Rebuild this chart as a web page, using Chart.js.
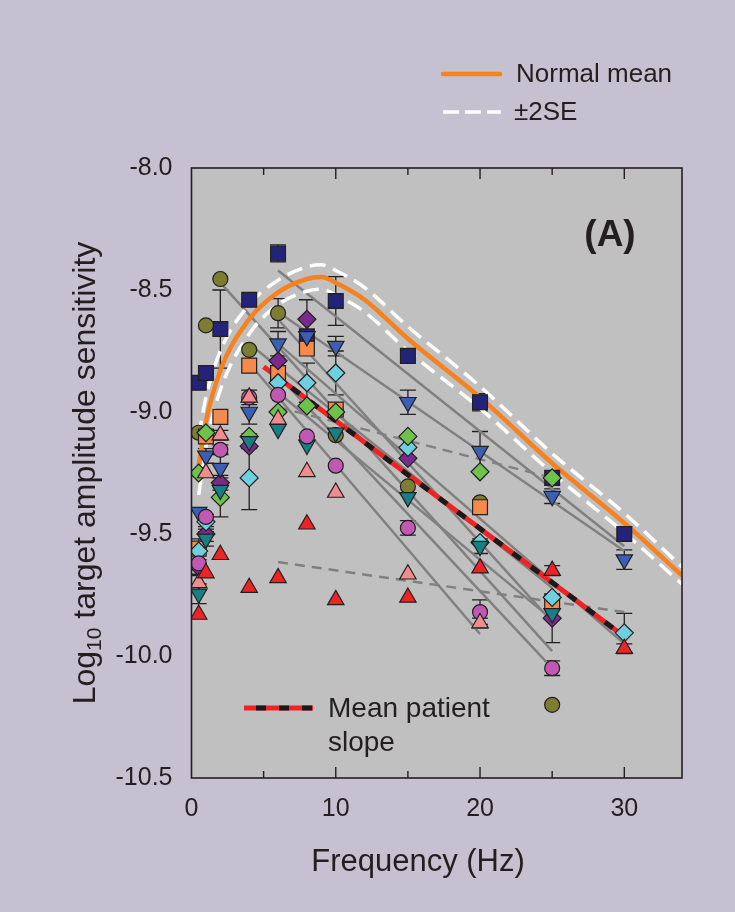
<!DOCTYPE html>
<html>
<head>
<meta charset="utf-8">
<script src="https://cdn.jsdelivr.net/npm/chart.js@4.4.0/dist/chart.umd.min.js"></script>
<style>
  html, body { margin: 0; padding: 0; background: #c6c1d0; }
  canvas { display: block; }
</style>
</head>
<body>
<canvas id="chart" width="735" height="912"></canvas>
<script>
'use strict';

// ── Data ────────────────────────────────────────────────────────────────────

const FREQS = [0.5, 1, 2, 4, 6, 8, 10, 15, 20, 25, 30];

// patient means (log10 target amplitude sensitivity), null = not tested
const NAVY    = [-8.88, -8.84, -8.66, -8.54, -8.35, -8.69, -8.545, -8.77, -8.96, -9.27, -9.50];
const OLIVE   = [-9.085, -8.645, -8.455, -8.745, -8.595, null, -9.095, -9.305, -9.37, -10.20, null];
const ORANGE  = [-9.56, -9.10, -9.02, -8.81, -8.84, -8.74, -8.99, null, -9.39, -9.78, null];
const PURPLE  = [-9.635, -9.50, -9.29, -9.14, -8.79, -8.62, null, -9.19, null, -9.845, null];
const BLUE    = [-9.41, -9.18, -9.23, -9.00, -8.72, -8.69, -8.73, -8.96, -9.16, -9.345, -9.605];
const CYAN    = [-9.57, -9.45, null, -9.27, -8.88, -8.88, -8.84, -9.145, -9.535, -9.76, -9.905];
const GREEN   = [-9.25, -9.085, -9.35, -9.10, -9.00, -8.975, -9.00, -9.10, -9.245, -9.27, null];
const TEAL    = [-9.745, -9.52, -9.32, -9.12, -9.07, -9.135, -9.085, -9.35, -9.55, -9.825, null];
const MAGENTA = [-9.62, -9.43, -9.155, -8.94, -8.93, -9.10, -9.22, -9.475, -9.82, -10.05, null];
const PINK    = [-9.70, -9.25, -9.095, -8.94, -9.03, -9.245, -9.33, -9.665, -9.865, null, null];
const RED     = [-9.83, -9.66, -9.585, -9.72, -9.68, -9.46, -9.77, -9.76, -9.64, -9.65, -9.97];

// error bar half-heights, null = no bar drawn
const NAVY_ERR    = [null, null, 0.16, null, 0.035, null, 0.10, null, 0.035, null, 0.03];
const OLIVE_ERR   = [null, null, null, null, 0.06, null, null, null, null, null, null];
const PURPLE_ERR  = [0.03, 0.03, 0.03, null, null, 0.08, null, null, null, 0.10, null];
const BLUE_ERR    = [null, 0.03, 0.06, 0.05, 0.05, null, 0.04, 0.05, 0.08, 0.03, 0.04];
const CYAN_ERR    = [0.05, 0.03, null, 0.13, null, 0.08, 0.09, null, null, null, 0.08];
const GREEN_ERR   = [null, null, 0.08, null, null, null, null, null, null, null, null];
const TEAL_ERR    = [0.04, 0.03, 0.03, 0.03, null, null, null, null, 0.03, null, null];
const MAGENTA_ERR = [null, null, 0.02, 0.03, null, null, null, 0.03, 0.05, 0.03, null];
const PINK_ERR    = [0.03, null, 0.02, null, null, null, null, null, 0.02, null, null];
const RED_ERR     = [null, null, null, null, null, null, null, null, null, 0.02, 0.02];

// per-patient linear fits (navy, olive, orange, purple, blue, cyan, green, teal, magenta, pink, red)
const FIT_FROM_HZ = [6, 2, 4, 6, 6, 6, 6, 6, 6, 4, 6];
const FIT_FROM    = [-8.42, -8.47, -8.72, -8.62, -8.59, -8.72, -8.98, -8.92, -8.85, -8.80, -9.615];
const FIT_TO_HZ   = [30, 25, 25, 25, 30, 30, 25, 25, 25, 20, 30];
const FIT_TO      = [-9.55, -9.98, -9.72, -9.86, -9.57, -9.95, -9.27, -9.85, -10.05, -9.91, -9.82];
const FIT_DASHED  = [false, false, false, false, false, false, true, false, false, false, true];

// normal observers
const NORM_HZ   = [0.5, 1, 2, 4, 6, 8, 9, 10, 12, 15, 20, 25, 30, 34];
const NORM_MEAN = [-9.22, -9.04, -8.83, -8.62, -8.51, -8.455, -8.447, -8.47, -8.54, -8.70, -8.94, -9.21, -9.455, -9.67];
const NORM_2SE  = [0.12, 0.10, 0.08, 0.06, 0.05, 0.05, 0.05, 0.05, 0.05, 0.05, 0.045, 0.04, 0.04, 0.035];

// mean patient slope
const SLOPE_HZ = [5, 30];
const SLOPE_VAL = [-8.815, -9.92];

const X_TICKS = [0, 10, 20, 30];
const Y_TICKS = [-10.5, -10.0, -9.5, -9.0, -8.5, -8.0];

// ── Styles ──────────────────────────────────────────────────────────────────

const FONT = "'Liberation Sans', Arial, sans-serif";
const INK = '#231f20';
const PAGE_BG = '#c6c1d0';
const PLOT_BG = '#c0c0c0';

const PATIENTS = [
  { name: 'navy',    vals: NAVY,    err: NAVY_ERR,    color: '#23237a', shape: 'rect',     r: 10.5 },
  { name: 'olive',   vals: OLIVE,   err: OLIVE_ERR,   color: '#7d7d32', shape: 'circle',   r: 7.5 },
  { name: 'orange',  vals: ORANGE,  err: null,        color: '#f58a4b', shape: 'rect',     r: 10.5 },
  { name: 'purple',  vals: PURPLE,  err: PURPLE_ERR,  color: '#7a2a8c', shape: 'rectRot',  r: 9 },
  { name: 'blue',    vals: BLUE,    err: BLUE_ERR,    color: '#3a5fb5', shape: 'triangle', r: 9.5, rot: 180 },
  { name: 'cyan',    vals: CYAN,    err: CYAN_ERR,    color: '#6dcfe0', shape: 'rectRot',  r: 9 },
  { name: 'green',   vals: GREEN,   err: GREEN_ERR,   color: '#6cc24a', shape: 'rectRot',  r: 9 },
  { name: 'teal',    vals: TEAL,    err: TEAL_ERR,    color: '#177f86', shape: 'triangle', r: 9.5, rot: 180 },
  { name: 'magenta', vals: MAGENTA, err: MAGENTA_ERR, color: '#c158b3', shape: 'circle',   r: 7.5 },
  { name: 'pink',    vals: PINK,    err: PINK_ERR,    color: '#f28c8c', shape: 'triangle', r: 9.5 },
  { name: 'red',     vals: RED,     err: RED_ERR,     color: '#ee2424', shape: 'triangle', r: 9.5 },
];

const pts = (xs, ys) => xs.map((x, i) => ({ x, y: ys[i] })).filter(p => p.y !== null);

// ── Datasets ────────────────────────────────────────────────────────────────

const datasets = [];

PATIENTS.forEach((p, i) => {
  datasets.push({
    type: 'line',
    data: [{ x: FIT_FROM_HZ[i], y: FIT_FROM[i] }, { x: FIT_TO_HZ[i], y: FIT_TO[i] }],
    borderColor: '#808080', borderWidth: 2.5,
    borderDash: FIT_DASHED[i] ? [10, 7] : [],
    pointRadius: 0, order: 100
  });
});

datasets.push({
  type: 'line', data: pts(NORM_HZ, NORM_MEAN.map((m, i) => m + NORM_2SE[i])),
  borderColor: '#ffffff', borderWidth: 3.5, borderDash: [16, 8],
  pointRadius: 0, cubicInterpolationMode: 'monotone', order: 90
});
datasets.push({
  type: 'line', data: pts(NORM_HZ, NORM_MEAN.map((m, i) => m - NORM_2SE[i])),
  borderColor: '#ffffff', borderWidth: 3.5, borderDash: [16, 8],
  pointRadius: 0, cubicInterpolationMode: 'monotone', order: 90
});
datasets.push({
  type: 'line', data: pts(NORM_HZ, NORM_MEAN),
  borderColor: '#f5821f', borderWidth: 4.5,
  pointRadius: 0, cubicInterpolationMode: 'monotone', order: 80
});

datasets.push({
  type: 'line', data: pts(SLOPE_HZ, SLOPE_VAL),
  borderColor: '#ee2424', borderWidth: 5, pointRadius: 0, order: 71
});
datasets.push({
  type: 'line', data: pts(SLOPE_HZ, SLOPE_VAL),
  borderColor: '#1a1a1a', borderWidth: 5, borderDash: [10, 13], borderDashOffset: -12,
  pointRadius: 0, order: 70
});

PATIENTS.forEach((p, i) => {
  datasets.push({
    type: 'scatter', data: pts(FREQS, p.vals), errors: p.err,
    backgroundColor: p.color, borderColor: INK, borderWidth: 1.2,
    pointStyle: p.shape, pointRadius: p.r, pointRotation: p.rot || 0,
    order: 20 - i
  });
});

// ── Plugins ─────────────────────────────────────────────────────────────────

const decor = {
  id: 'decor',
  beforeDraw(chart) {
    const { ctx, chartArea: a } = chart;
    ctx.save();
    ctx.fillStyle = PAGE_BG;
    ctx.fillRect(0, 0, chart.width, chart.height);
    ctx.fillStyle = PLOT_BG;
    ctx.fillRect(a.left, a.top, a.right - a.left, a.bottom - a.top);
    ctx.restore();
  },
  beforeDatasetsDraw(chart) {
    // error bars sit behind the markers
    const { ctx, scales: { x, y }, chartArea: a } = chart;
    ctx.save();
    ctx.beginPath();
    ctx.rect(a.left, a.top, a.right - a.left, a.bottom - a.top);
    ctx.clip();
    ctx.strokeStyle = INK;
    ctx.lineWidth = 1.3;
    PATIENTS.forEach(p => {
      if (!p.err) return;
      p.err.forEach((e, i) => {
        if (e === null || p.vals[i] === null) return;
        const px = x.getPixelForValue(FREQS[i]);
        const y1 = y.getPixelForValue(p.vals[i] + e);
        const y2 = y.getPixelForValue(p.vals[i] - e);
        ctx.beginPath();
        ctx.moveTo(px, y1); ctx.lineTo(px, y2);
        ctx.moveTo(px - 8, y1); ctx.lineTo(px + 8, y1);
        ctx.moveTo(px - 8, y2); ctx.lineTo(px + 8, y2);
        ctx.stroke();
      });
    });
    ctx.restore();
  },
  afterDraw(chart) {
    const { ctx, scales: { x, y }, chartArea: a } = chart;
    ctx.save();

    // frame + inward ticks
    ctx.strokeStyle = INK;
    ctx.lineWidth = 1.6;
    ctx.strokeRect(a.left, a.top, a.right - a.left, a.bottom - a.top);
    ctx.lineWidth = 1.4;
    ctx.beginPath();
    for (let f = 5; f < 34; f += 5) {
      const px = x.getPixelForValue(f);
      const len = f % 10 === 0 ? 11 : 7;
      ctx.moveTo(px, a.bottom); ctx.lineTo(px, a.bottom - len);
      ctx.moveTo(px, a.top); ctx.lineTo(px, a.top + len);
    }
    for (let v = -10.25; v > -8.0; v += 0.25) {
      const py = y.getPixelForValue(v);
      const len = Math.abs(v * 2 - Math.round(v * 2)) < 1e-6 ? 11 : 7;
      ctx.moveTo(a.left, py); ctx.lineTo(a.left + len, py);
      ctx.moveTo(a.right, py); ctx.lineTo(a.right - len, py);
    }
    ctx.stroke();

    // axis titles
    ctx.fillStyle = INK;
    ctx.textBaseline = 'middle';
    ctx.textAlign = 'center';
    ctx.font = `31px ${FONT}`;
    ctx.fillText('Frequency (Hz)', 418, 862);

    ctx.save();
    ctx.translate(86, 473);
    ctx.rotate(-Math.PI / 2);
    const big = `32px ${FONT}`, small = `21px ${FONT}`;
    const parts = [['Log', big, 0], ['10', small, 9], [' target amplitude sensitivity', big, 0]];
    let total = 0;
    parts.forEach(([t, f]) => { ctx.font = f; total += ctx.measureText(t).width; });
    let cx = -total / 2;
    ctx.textAlign = 'left';
    parts.forEach(([t, f, dy]) => {
      ctx.font = f;
      ctx.fillText(t, cx, dy);
      cx += ctx.measureText(t).width;
    });
    ctx.restore();

    // panel label
    ctx.textAlign = 'center';
    ctx.font = `bold 37px ${FONT}`;
    ctx.fillText('(A)', 610, 236);

    // top legend
    ctx.lineCap = 'round';
    ctx.strokeStyle = '#f5821f';
    ctx.lineWidth = 4.5;
    ctx.beginPath(); ctx.moveTo(443, 74); ctx.lineTo(500, 74); ctx.stroke();
    ctx.strokeStyle = '#ffffff';
    ctx.lineWidth = 3.5;
    ctx.lineCap = 'butt';
    ctx.setLineDash([16, 6]);
    ctx.beginPath(); ctx.moveTo(443, 112); ctx.lineTo(501, 112); ctx.stroke();
    ctx.setLineDash([]);
    ctx.textAlign = 'left';
    ctx.font = `26px ${FONT}`;
    ctx.fillText('Normal mean', 516, 75);
    ctx.fillText('\u00b12SE', 514, 113);

    // mean patient slope legend
    ctx.lineWidth = 5;
    ctx.strokeStyle = '#ee2424';
    ctx.beginPath(); ctx.moveTo(244, 708); ctx.lineTo(313, 708); ctx.stroke();
    ctx.strokeStyle = '#1a1a1a';
    ctx.setLineDash([10, 13]);
    ctx.lineDashOffset = -12;
    ctx.beginPath(); ctx.moveTo(244, 708); ctx.lineTo(313, 708); ctx.stroke();
    ctx.setLineDash([]);
    ctx.font = `28px ${FONT}`;
    ctx.fillText('Mean patient', 328, 709);
    ctx.fillText('slope', 328, 743);

    ctx.restore();
  }
};

// ── Chart ───────────────────────────────────────────────────────────────────

new Chart(document.getElementById('chart'), {
  type: 'scatter',
  data: { datasets },
  plugins: [decor],
  options: {
    responsive: false,
    animation: false,
    layout: { padding: { top: 168, right: 53, left: 0, bottom: 0 } },
    plugins: { legend: { display: false }, tooltip: { enabled: false } },
    scales: {
      x: {
        type: 'linear', min: 0, max: 34,
        grid: { display: false }, border: { display: false },
        afterBuildTicks: s => { s.ticks = X_TICKS.map(v => ({ value: v })); },
        afterFit: s => { s.height = 134; },
        ticks: { font: { size: 25, family: FONT }, color: INK, padding: 8, maxRotation: 0 }
      },
      y: {
        type: 'linear', min: -10.5, max: -8.0,
        grid: { display: false }, border: { display: false },
        afterBuildTicks: s => { s.ticks = Y_TICKS.map(v => ({ value: v })); },
        afterFit: s => { s.width = 191.5; },
        ticks: { font: { size: 25, family: FONT }, color: INK, padding: 11, callback: v => v.toFixed(1) }
      }
    }
  }
});
</script>
</body>
</html>
